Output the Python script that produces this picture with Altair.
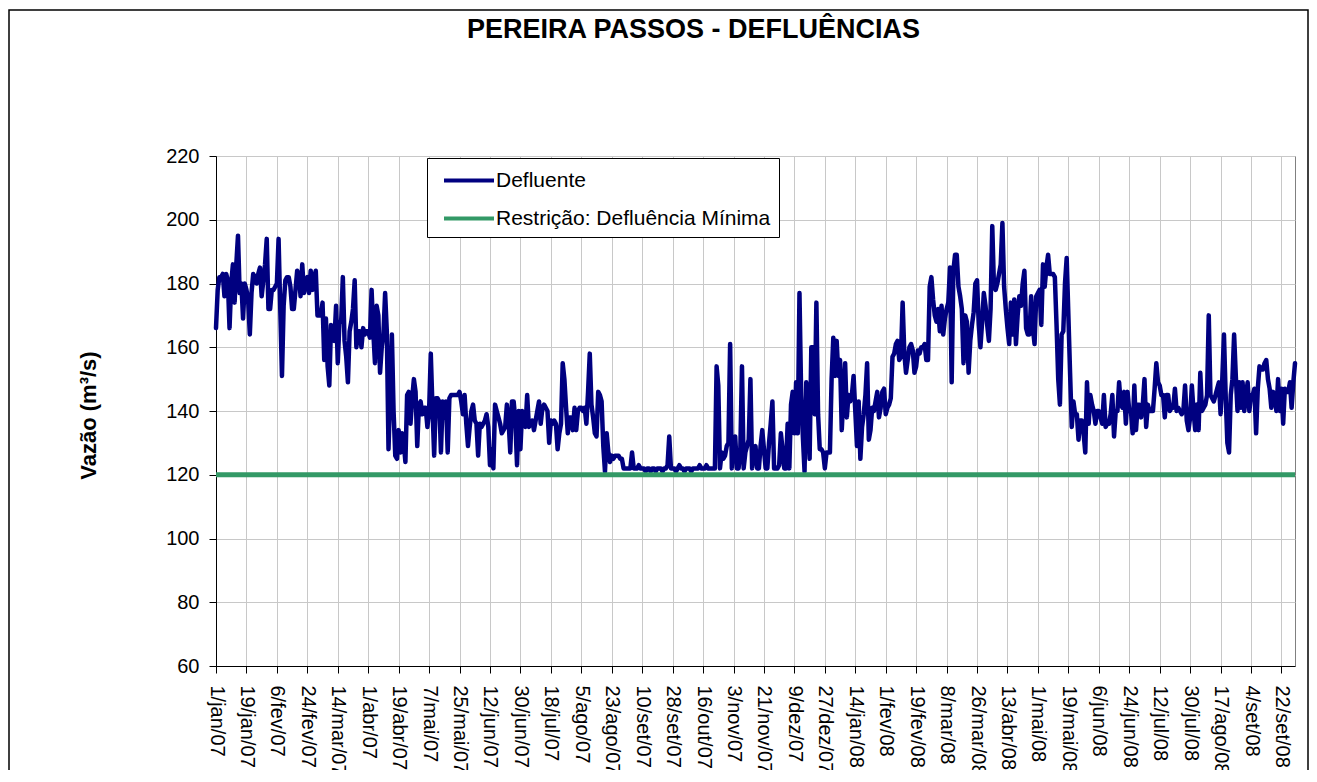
import altair as alt
import pandas as pd

FONT = "Liberation Sans"

titulo = "PEREIRA PASSOS - DEFLUÊNCIAS"
titulo_y = "Vazão (m³/s)"
series = ["Defluente", "Restrição: Defluência Mínima"]
cores = ["#000080", "#339966"]
restricao_minima = 120
y_ticks = [60, 80, 100, 120, 140, 160, 180, 200, 220]
passo_rotulo = 18  # dias entre rótulos do eixo x

rotulos_x = ["1/jan/07", "19/jan/07", "6/fev/07", "24/fev/07", "14/mar/07", "1/abr/07",
             "19/abr/07", "7/mai/07", "25/mai/07", "12/jun/07", "30/jun/07", "18/jul/07",
             "5/ago/07", "23/ago/07", "10/set/07", "28/set/07", "16/out/07", "3/nov/07",
             "21/nov/07", "9/dez/07", "27/dez/07", "14/jan/08", "1/fev/08", "19/fev/08",
             "8/mar/08", "26/mar/08", "13/abr/08", "1/mai/08", "19/mai/08", "6/jun/08",
             "24/jun/08", "12/jul/08", "30/jul/08", "17/ago/08", "4/set/08", "22/set/08"]

# vazão defluente diária, 1/jan/07 a 30/set/08 (18 dias por linha)
defluente = [
    166, 178, 182, 182, 183, 176, 183, 181, 166, 180, 186, 174, 186, 195, 177, 180, 169, 180,
    178, 175, 164, 177, 183, 182, 180, 183, 185, 176, 181, 186, 194, 172, 172, 178, 178, 179,
    180, 194, 172, 151, 173, 181, 182, 182, 179, 172, 172, 178, 184, 183, 176, 186, 177, 180,
    182, 177, 184, 178, 182, 184, 170, 170, 170, 174, 156, 169, 154, 148, 167, 165, 162, 173,
    155, 168, 168, 182, 162, 157, 149, 165, 168, 172, 181, 160, 165, 165, 160, 166, 164, 165,
    165, 163, 178, 165, 155, 173, 170, 152, 160, 164, 177, 165, 128, 146, 164, 140, 126, 125,
    134, 127, 133, 130, 124, 145, 146, 136, 144, 150, 146, 129, 142, 143, 139, 141, 141, 135,
    140, 158, 141, 126, 144, 144, 143, 127, 143, 138, 143, 127, 144, 145, 145, 145, 145, 145,
    146, 143, 139, 145, 136, 129, 135, 140, 142, 137, 136, 126, 136, 135, 136, 137, 139, 135,
    123, 128, 122, 142, 140, 138, 136, 133, 134, 135, 142, 137, 127, 143, 143, 137, 123, 140,
    128, 140, 137, 135, 145, 135, 136, 137, 134, 137, 140, 143, 136, 141, 142, 141, 140, 130,
    137, 136, 137, 136, 128, 133, 136, 155, 150, 141, 133, 138, 138, 134, 141, 134, 140, 141,
    141, 140, 141, 136, 146, 158, 142, 138, 133, 132, 146, 145, 143, 129, 121, 133, 127, 124,
    126, 125, 126, 126, 126, 125, 125, 122, 122, 122, 122, 122, 127, 122, 122, 122, 123, 122,
    122, 122, 121, 122, 122, 121, 122, 122, 121, 122, 122, 122, 121, 122, 122, 123, 132, 122,
    122, 122, 121, 122, 123, 122, 122, 121, 122, 122, 122, 121, 122, 122, 122, 122, 123, 122,
    122, 122, 123, 122, 122, 122, 122, 122, 154, 148, 122, 127, 125, 126, 129, 130, 161, 122,
    131, 132, 122, 122, 127, 154, 122, 127, 129, 131, 150, 122, 127, 129, 122, 122, 129, 134,
    128, 122, 122, 130, 136, 143, 122, 122, 122, 123, 133, 128, 122, 122, 136, 122, 142, 146,
    133, 149, 133, 177, 145, 132, 121, 149, 139, 125, 160, 160, 139, 174, 139, 128, 128, 127,
    122, 127, 127, 127, 150, 163, 151, 162, 151, 156, 134, 145, 155, 138, 145, 143, 145, 151,
    140, 129, 143, 125, 135, 139, 145, 155, 131, 134, 141, 140, 143, 146, 138, 141, 146, 147,
    139, 141, 142, 144, 157, 158, 161, 162, 156, 157, 174, 158, 152, 156, 160, 161, 159, 152,
    154, 159, 158, 160, 160, 161, 156, 156, 179, 182, 175, 170, 168, 172, 165, 173, 164, 169,
    172, 174, 185, 149, 184, 189, 189, 179, 176, 172, 155, 170, 168, 152, 162, 167, 171, 180,
    181, 167, 160, 168, 177, 173, 167, 162, 172, 198, 179, 178, 180, 183, 186, 199, 179, 172,
    166, 161, 174, 164, 175, 161, 170, 176, 173, 180, 184, 166, 164, 164, 176, 166, 161, 176,
    177, 178, 167, 186, 179, 185, 189, 183, 183, 183, 182, 167, 150, 142, 164, 165, 180, 188,
    170, 152, 135, 143, 139, 139, 131, 137, 137, 133, 127, 149, 136, 145, 142, 140, 136, 140,
    140, 138, 136, 145, 135, 136, 136, 139, 145, 132, 140, 140, 149, 142, 141, 146, 136, 146,
    140, 140, 133, 148, 134, 142, 142, 138, 142, 150, 135, 142, 140, 140, 140, 147, 155, 149,
    148, 145, 145, 138, 145, 145, 140, 141, 141, 147, 140, 141, 140, 139, 140, 148, 137, 134,
    138, 148, 140, 134, 142, 134, 152, 140, 141, 142, 145, 170, 145, 144, 143, 145, 147, 149,
    139, 150, 164, 145, 130, 127, 145, 150, 164, 151, 140, 149, 141, 149, 140, 145, 149, 140,
    145, 145, 147, 133, 147, 154, 153, 153, 155, 156, 150, 147, 141, 146, 145, 140, 150, 140,
    147, 136, 147, 146, 146, 149, 141, 149, 155,
]

dias = list(range(len(defluente)))
df_def = pd.DataFrame({"dia": dias, "vazao": defluente, "serie": series[0]})
df_res = pd.DataFrame({"dia": dias, "vazao": [restricao_minima] * len(dias), "serie": series[1]})

label_expr = "[" + ",".join(f"'{r}'" for r in rotulos_x) + f"][round(datum.value / {passo_rotulo})]"

x_enc = alt.X(
    "dia:Q",
    scale=alt.Scale(domain=[0, len(dias) - 1], nice=False, zero=False),
    axis=alt.Axis(
        values=[i * passo_rotulo for i in range(len(rotulos_x))],
        labelExpr=label_expr, labelAngle=90, labelAlign="left", labelBaseline="middle",
        title=None, grid=True, tickSize=7, labelPadding=12, labelFontSize=20,
        labelOverlap=False, labelFlush=False,
    ),
)
y_enc = alt.Y(
    "vazao:Q",
    scale=alt.Scale(domain=[60, 220], nice=False, zero=False),
    axis=alt.Axis(
        values=y_ticks, title=titulo_y, titleFontSize=22, titleFontWeight="bold",
        titleX=-128, titleY=259, titleAlign="center", titleBaseline="middle",
        tickSize=7, labelPadding=10, labelFontSize=20, grid=True,
    ),
)
color_enc = alt.Color(
    "serie:N",
    scale=alt.Scale(domain=series, range=cores),
    legend=alt.Legend(
        title=None, orient="none", legendX=211, legendY=2, direction="vertical",
        symbolType="M-1,0H3", symbolSize=625, symbolStrokeWidth=4, symbolOffset=7,
        labelFontSize=21, labelFont=FONT, labelColor="black", labelOffset=25,
        labelLimit=0, strokeColor="black", fillColor="white", padding=8, rowPadding=13,
        cornerRadius=0,
    ),
)

moldura = alt.Chart(pd.DataFrame({"m": [0]})).mark_rect(
    fillOpacity=0, stroke="black", strokeWidth=1.5
).encode(x=alt.value(-207), x2=alt.value(1092), y=alt.value(-146), y2=alt.value(700))

linha_def = alt.Chart(df_def).mark_line(
    strokeWidth=4.5, strokeJoin="round", strokeCap="round"
).encode(x=x_enc, y=y_enc, color=color_enc)

linha_res = alt.Chart(df_res).mark_line(strokeWidth=5).encode(x=x_enc, y=y_enc, color=color_enc)

chart = alt.layer(moldura, linha_def, linha_res).properties(
    width=1079,
    height=510,
    title=alt.TitleParams(
        text=titulo, font=FONT, fontSize=27, fontWeight="bold", color="black",
        anchor="middle", frame="group", dx=-62, offset=-35,
    ),
    autosize=alt.AutoSizeParams(type="none"),
    padding={"left": 208, "top": 148, "right": 14, "bottom": 104},
).configure_view(
    stroke="#808080", strokeWidth=1
).configure_axis(
    domainColor="black", domainWidth=1, tickColor="black", tickWidth=1,
    gridColor="#c8c8c8", gridWidth=1, labelColor="black", titleColor="black",
    labelFont=FONT, titleFont=FONT,
)

chart.save("out.html", embed_options={"renderer": "svg", "actions": False})
